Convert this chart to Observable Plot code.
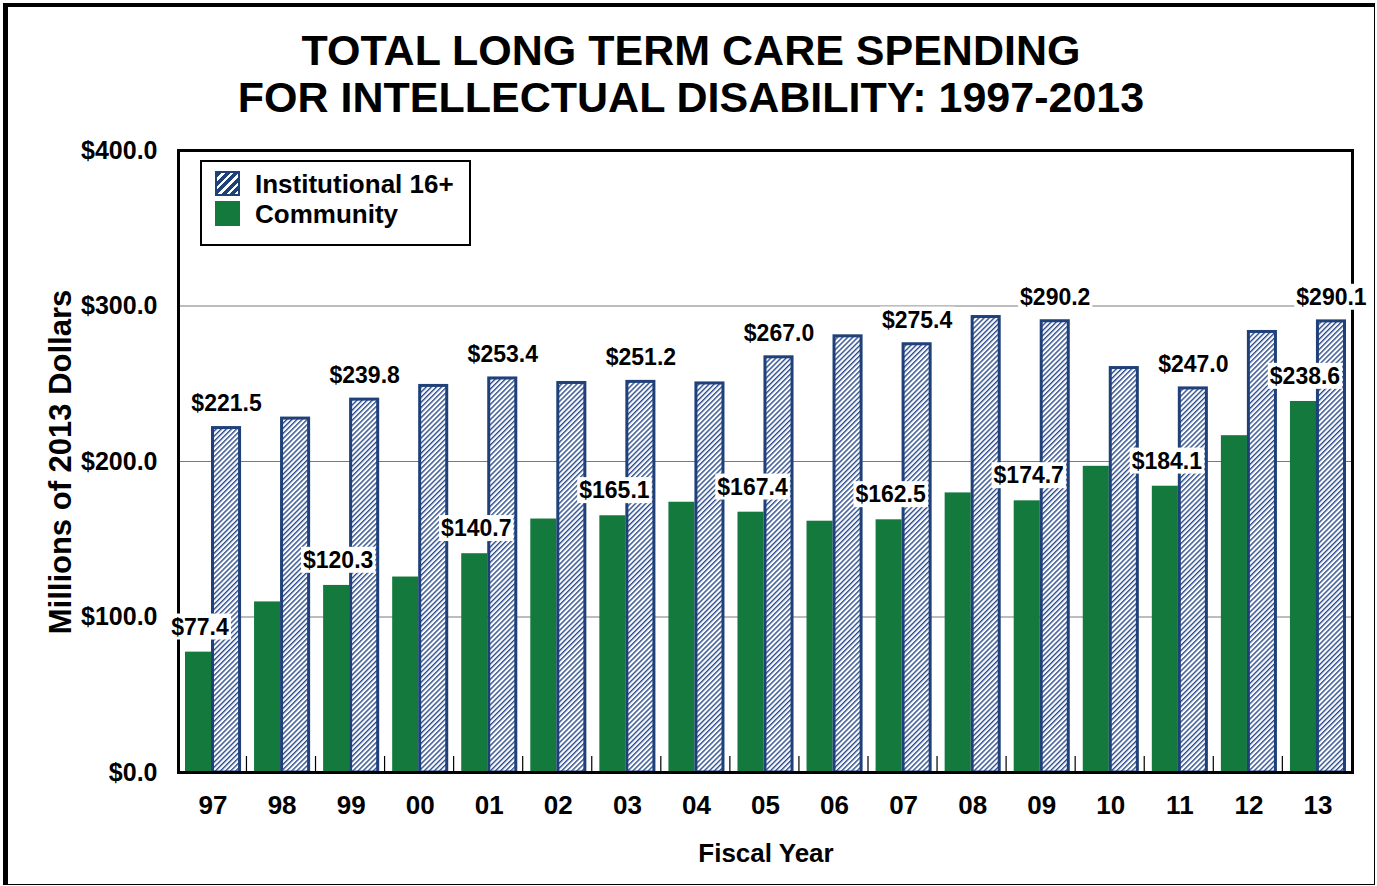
<!DOCTYPE html>
<html>
<head>
<meta charset="utf-8">
<script src="https://cdn.jsdelivr.net/npm/d3@7"></script>
<script src="https://cdn.jsdelivr.net/npm/@observablehq/plot@0.6"></script>
<style>
  html, body { margin: 0; padding: 0; background: #fff; }
  #page { position: relative; width: 1377px; height: 886px; overflow: hidden; font-family: "Liberation Sans", Arial, sans-serif; font-weight: bold; color: #000; }
  #outer { position: absolute; left: 3px; top: 3px; width: 1366px; height: 877px; border-left: 5px solid #000; border-top: 4px solid #000; border-right: 1px solid #000; border-bottom: 1px solid #000; }
  #title { position: absolute; left: 0; width: 1382px; top: 27px; text-align: center; font-size: 43px; line-height: 47px; }
  #chart { position: absolute; left: 0; top: 130px; }
  #legend { position: absolute; left: 200px; top: 160px; width: 267px; height: 82px; border: 2px solid #000; background: #fff; }
  .sw { position: absolute; left: 13px; width: 25px; height: 25px; box-sizing: border-box; }
  .lt { position: absolute; left: 53px; font-size: 26px; line-height: 30px; white-space: nowrap; }
  #ytitle { position: absolute; left: 61px; top: 462px; transform: translate(-50%, -50%) rotate(-90deg); font-size: 31px; white-space: nowrap; }
  #xtitle { position: absolute; left: 766px; top: 853px; transform: translate(-50%, -50%); font-size: 26px; white-space: nowrap; }
</style>
</head>
<body>
<div id="page">
  <div id="outer"></div>
  <div id="title">TOTAL LONG TERM CARE SPENDING<br>FOR INTELLECTUAL DISABILITY: 1997-2013</div>
  <div id="chart"></div>
  <div id="legend">
    <div class="sw" style="top:9px; border:2px solid #1f4079; background: repeating-linear-gradient(135deg, #1f4079 0 3.5px, #ffffff 3.5px 6px);"></div>
    <div class="lt" style="top:7px;">Institutional 16+</div>
    <div class="sw" style="top:39px; background:#13793d;"></div>
    <div class="lt" style="top:37px;">Community</div>
  </div>
  <div id="ytitle">Millions of 2013 Dollars</div>
  <div id="xtitle">Fiscal Year</div>
</div>
<script>
const years = ["97","98","99","00","01","02","03","04","05","06","07","08","09","10","11","12","13"];
const community = [77.4, 109.7, 120.3, 125.7, 140.7, 163.0, 165.1, 173.8, 167.4, 161.6, 162.5, 179.8, 174.7, 196.9, 184.1, 216.6, 238.6];
const institutional = [221.5, 227.6, 239.8, 248.6, 253.4, 250.5, 251.2, 250.2, 267.0, 280.5, 275.4, 292.9, 290.2, 260.1, 247.0, 283.3, 290.1];
const yTicks = [0, 100, 200, 300, 400];
const gridValues = [100, 200, 300];

const GREEN = "#13793d";
const NAVY = "#1f4079";

const data = years.map((year, i) => ({year, community: community[i], institutional: institutional[i]}));
const labeled = data.filter((d, i) => i % 2 === 0);

const W = 1377, H = 756;
const mL = 178, mR = 25, mT = 20, mB = 114;
const bw = (W - mL - mR) / years.length;
const fmt = v => "$" + v.toFixed(1);

const svg = Plot.plot({
  width: W,
  height: H,
  marginLeft: mL,
  marginRight: mR,
  marginTop: mT,
  marginBottom: mB,
  style: {fontFamily: "'Liberation Sans', Arial, sans-serif", fontWeight: "bold", fontSize: "25px", color: "#000", background: "transparent", overflow: "visible"},
  x: {type: "band", domain: years, padding: 0, round: false},
  y: {domain: [0, 400]},
  marks: [
    Plot.gridY(gridValues, {stroke: "#7a7a7a", strokeOpacity: 1, strokeWidth: 1}),
    Plot.barY(data, {x: "year", y: "community", fill: GREEN, insetLeft: 7, insetRight: 36}),
    Plot.barY(data, {x: "year", y: "institutional", fill: "url(#hatch)", stroke: NAVY, strokeWidth: 3, insetLeft: 34.5, insetRight: 7.5}),
    Plot.barY(years.slice(0, -1), {x: d => d, y1: 0, y2: 10.3, fill: "#000", insetLeft: bw - 1.2, insetRight: 0}),
    Plot.frame({stroke: "#000", strokeWidth: 3}),
    Plot.text(labeled, {x: "year", y: "community", text: d => fmt(d.community), dx: -13, dy: -25, fontSize: 23, fontWeight: "bold", fill: "#000"}),
    Plot.text(labeled, {x: "year", y: "institutional", text: d => fmt(d.institutional), dx: 13.5, dy: -24, fontSize: 23, fontWeight: "bold", fill: "#000"}),
    Plot.axisY({ticks: yTicks, tickFormat: fmt, tickSize: 0, tickPadding: 21, fontSize: 25, fontWeight: "bold", label: null}),
    Plot.axisX({tickSize: 0, tickPadding: 23, fontSize: 26, fontWeight: "bold", label: null})
  ]
});

document.getElementById("chart").appendChild(svg);

const s = d3.select(svg);
s.insert("defs", ":first-child").html(
  `<pattern id="hatch" patternUnits="userSpaceOnUse" width="3.6" height="3.6" patternTransform="rotate(45)">
     <rect x="0" y="0" width="3.6" height="3.6" fill="#ffffff"></rect>
     <rect x="0" y="0" width="1.4" height="3.6" fill="#2a4a8a"></rect>
   </pattern>`
);

// white boxes behind value labels
s.selectAll('g[aria-label="text"] text').each(function() {
  const b = this.getBBox();
  const r = document.createElementNS("http://www.w3.org/2000/svg", "rect");
  r.setAttribute("x", b.x - 2);
  r.setAttribute("y", b.y);
  r.setAttribute("width", b.width + 4);
  r.setAttribute("height", b.height);
  r.setAttribute("fill", "#ffffff");
  const t = this.getAttribute("transform");
  if (t) r.setAttribute("transform", t);
  this.parentNode.insertBefore(r, this);
});
</script>
</body>
</html>
